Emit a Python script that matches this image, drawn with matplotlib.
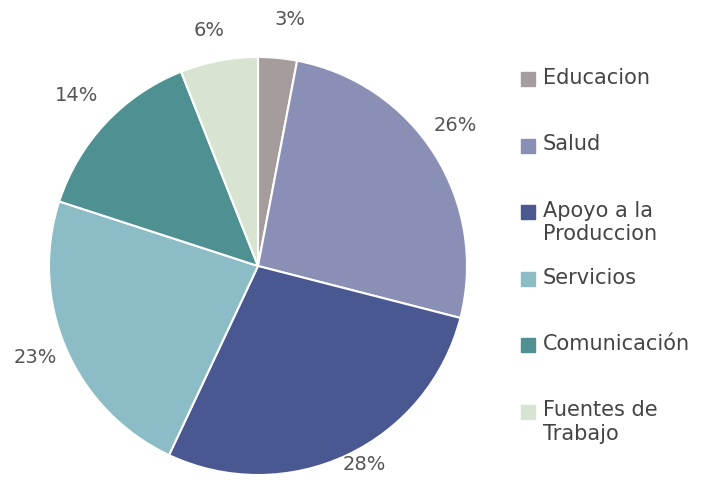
import numpy as np
import matplotlib.pyplot as plt
from matplotlib.patches import Rectangle

# Distribución de proyectos por sector
sectores = ['Educacion', 'Salud', 'Apoyo a la\nProduccion', 'Servicios',
            'Comunicación', 'Fuentes de\nTrabajo']
porcentajes = [3, 26, 28, 23, 14, 6]
colores = ['#a59c9c', '#8a8fb6', '#4a5891', '#8cbcc6', '#4f9192', '#d7e4d1']

plt.rcParams['font.family'] = ['DejaVu Sans']

fig = plt.figure(figsize=(7.03, 4.84), dpi=100)
W, H = 703, 484
cx, cy, r = 258, 266, 209
ax = fig.add_axes([(cx - r) / W, (H - cy - r) / H, 2 * r / W, 2 * r / H])

wedges, _ = ax.pie(porcentajes, colors=colores, startangle=90, counterclock=False,
                   wedgeprops=dict(edgecolor='white', linewidth=1.5))

# etiquetas de porcentaje fuera de cada sector
distancias = [1.19, 1.16, 1.08, 1.15, 1.19, 1.15]
giros = [-2, 3, 3, -1, 0, 1]
for w, p, d, g in zip(wedges, porcentajes, distancias, giros):
    ang = np.deg2rad((w.theta1 + w.theta2) / 2 + g)
    ax.text(d * np.cos(ang), d * np.sin(ang), f'{p}%', ha='center', va='center',
            fontsize=14, color='#555555')
ax.set_xlim(-1, 1)
ax.set_ylim(-1, 1)
ax.set_aspect('equal')

# Leyenda a la derecha
y0, paso = 79, 66.5
for i, (nombre, color) in enumerate(zip(sectores, colores)):
    y = y0 + i * paso
    fig.add_artist(Rectangle((521 / W, 1 - (y + 7) / H), 14 / W, 14 / H,
                             transform=fig.transFigure, color=color))
    fig.text(543 / W, 1 - (y - 11) / H, nombre, fontsize=15, color='#444444',
             va='top', ha='left', linespacing=1.2)

fig.savefig('out.png', dpi=100)
